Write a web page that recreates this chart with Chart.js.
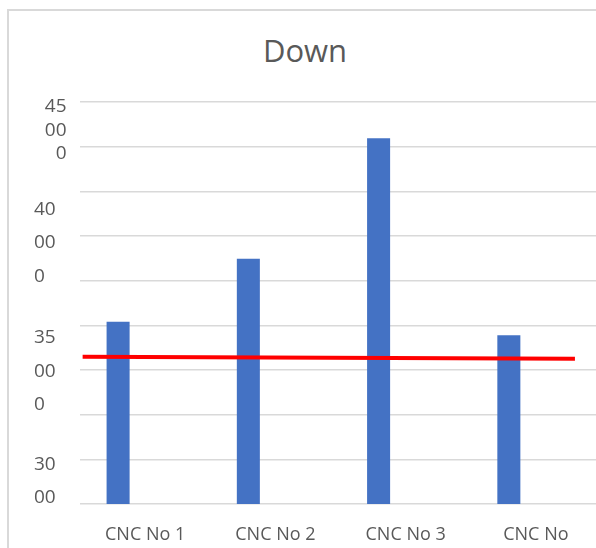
<!DOCTYPE html>
<html>
<head>
<meta charset="utf-8">
<script src="https://cdn.jsdelivr.net/npm/chart.js@4.4.1/dist/chart.umd.min.js"></script>
<style>
  html, body { margin: 0; padding: 0; background: #fff; overflow: hidden; }
  #frame { position: absolute; left: 7px; top: 9px; width: 700px; height: 700px;
           border-left: 2px solid #d9d9d9; border-top: 2px solid #d9d9d9; }
  #title { position: absolute; left: 205px; width: 200px; top: 35px; text-align: center;
           font: 31px/31px "Open Sans", sans-serif; color: #595959; }
  #box { position: absolute; left: 0; top: 0; width: 620px; height: 548px; }
</style>
</head>
<body>
<div id="frame"></div>
<div id="title">Down</div>
<div id="box"><canvas id="chart"></canvas></div>
<script>
// data
const categories = ["CNC No 1", "CNC No 2", "CNC No 3", "CNC No"];
const downValues = [36800, 39150, 43650, 36300];
const emptySeries = [null, null, null, null];   // second (empty) series, pushes bars left
const trendX = [-0.48, 3.3];
const trendValues = [35490, 35420];

const yMin = 30000;
const yMax = 45000;
const yTickValues = [30850, 34950, 39750, 43950];
const yTickLabels = [["30", "00"], ["35", "00", "0"], ["40", "00", "0"], ["45", "00", "0"]];

const grey = "#595959";
const barBlue = "#4472c4";

new Chart(document.getElementById("chart"), {
  type: "bar",
  data: {
    labels: categories,
    datasets: [
      {
        type: "line",
        label: "Trend",
        data: trendX.map((x, i) => ({ x: x, y: trendValues[i] })),
        xAxisID: "xLine",
        yAxisID: "y",
        borderColor: "#ff0000",
        borderWidth: 4,
        pointRadius: 0,
        fill: false,
        order: 0
      },
      {
        label: "Down",
        data: downValues,
        xAxisID: "x",
        yAxisID: "y",
        backgroundColor: barBlue,
        categoryPercentage: 1.66,
        barPercentage: 0.426,
        order: 1
      },
      {
        label: "",
        data: emptySeries,
        xAxisID: "x",
        yAxisID: "y",
        backgroundColor: barBlue,
        categoryPercentage: 1.66,
        barPercentage: 0.426,
        order: 2
      }
    ]
  },
  options: {
    responsive: true,
    maintainAspectRatio: false,
    animation: false,
    layout: { padding: { left: 34, top: 102, right: 19, bottom: 2 } },
    plugins: {
      legend: { display: false },
      title: { display: false },
      tooltip: { enabled: false }
    },
    scales: {
      x: {
        type: "category",
        offset: true,
        grid: { display: false, drawTicks: false },
        border: { display: false },
        ticks: {
          color: grey,
          font: { family: "Open Sans", size: 18 },
          padding: 20,
          maxRotation: 0,
          autoSkip: false
        },
        afterFit: s => { s.height = 42; }
      },
      xLine: { type: "linear", display: false, offset: false, min: -0.5, max: 3.5,
               grid: { offset: false } },
      y: {
        type: "linear",
        position: "left",
        min: yMin,
        max: yMax,
        ticks: { display: false, count: 10 },
        grid: { color: "#d9d9d9", lineWidth: 1.5, drawTicks: false },
        border: { display: false },
        afterFit: s => { s.width = 0; }
      },
      yLab: {
        type: "linear",
        position: "left",
        min: yMin,
        max: yMax,
        grid: { display: false, drawTicks: false },
        border: { display: false },
        afterBuildTicks: s => { s.ticks = yTickValues.map(v => ({ value: v })); },
        ticks: {
          autoSkip: false,
          crossAlign: "far",
          color: grey,
          font: ctx => ({
            family: "Open Sans",
            size: 19,
            lineHeight: ctx.index === yTickValues.length - 1 ? 1.26 : 1.76
          }),
          callback: function (value, index) {
            const lines = yTickLabels[index];
            // top label sits right-aligned in the original
            if (index === yTickLabels.length - 1) return lines.map(s => s.padStart(3, "\u2007"));
            return lines;
          }
        },
        afterFit: s => { s.width = 46; }
      }
    }
  }
});
</script>
</body>
</html>
